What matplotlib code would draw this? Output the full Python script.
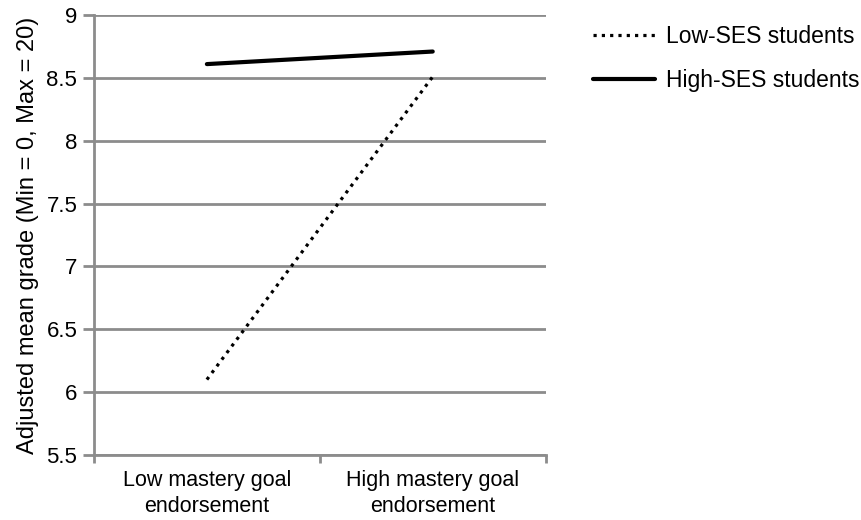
import matplotlib
matplotlib.use('Agg')
import matplotlib.pyplot as plt

plt.rcParams['font.family'] = ['Liberation Sans', 'DejaVu Sans']

# data
categories = ['Low mastery goal\nendorsement', 'High mastery goal\nendorsement']
low_ses = [6.10, 8.51]
high_ses = [8.61, 8.71]
series_names = ['Low-SES students', 'High-SES students']

grey = '#8c8c8c'

fig = plt.figure(figsize=(8.62, 5.2), dpi=100)
ax = fig.add_axes([0.109, 0.125, 0.524, 0.846])

x = [i + 0.5 for i in range(len(categories))]
ax.plot(x, low_ses, color='black', linestyle=(0, (1, 1.6)), linewidth=2.3,
        label=series_names[0])
ax.plot(x, high_ses, color='black', linestyle='-', linewidth=3,
        solid_capstyle='round', label=series_names[1])

ax.set_xlim(0, len(categories))
ax.set_ylim(5.5, 9)
ax.set_yticks([5.5, 6, 6.5, 7, 7.5, 8, 8.5, 9])
ax.set_yticklabels(['5.5', '6', '6.5', '7', '7.5', '8', '8.5', '9'])

ax.set_xticks(range(len(categories) + 1))
ax.set_xticklabels([])
ax.set_xticks(x, minor=True)
ax.set_xticklabels(categories, minor=True, fontsize=15.5, linespacing=1.3)
ax.tick_params(axis='x', which='minor', length=0, pad=11)
ax.tick_params(axis='x', which='major', length=6, width=2, color=grey, direction='out')
ax.tick_params(axis='y', length=8, width=2, color=grey, labelsize=16, pad=4)

ax.grid(axis='y', color=grey, linewidth=2)
ax.set_axisbelow(True)
for s in ['top', 'right']:
    ax.spines[s].set_visible(False)
for s in ['left', 'bottom']:
    ax.spines[s].set_color(grey)
    ax.spines[s].set_linewidth(2)

ax.set_ylabel('Adjusted mean grade (Min = 0, Max = 20)', fontsize=17, labelpad=5)

leg = ax.legend(loc='upper left', bbox_to_anchor=(1.06, 1.025), frameon=False,
                fontsize=16.5, handlelength=2.7, handletextpad=0.45, labelspacing=0.95)

fig.savefig('out.png', dpi=100)
